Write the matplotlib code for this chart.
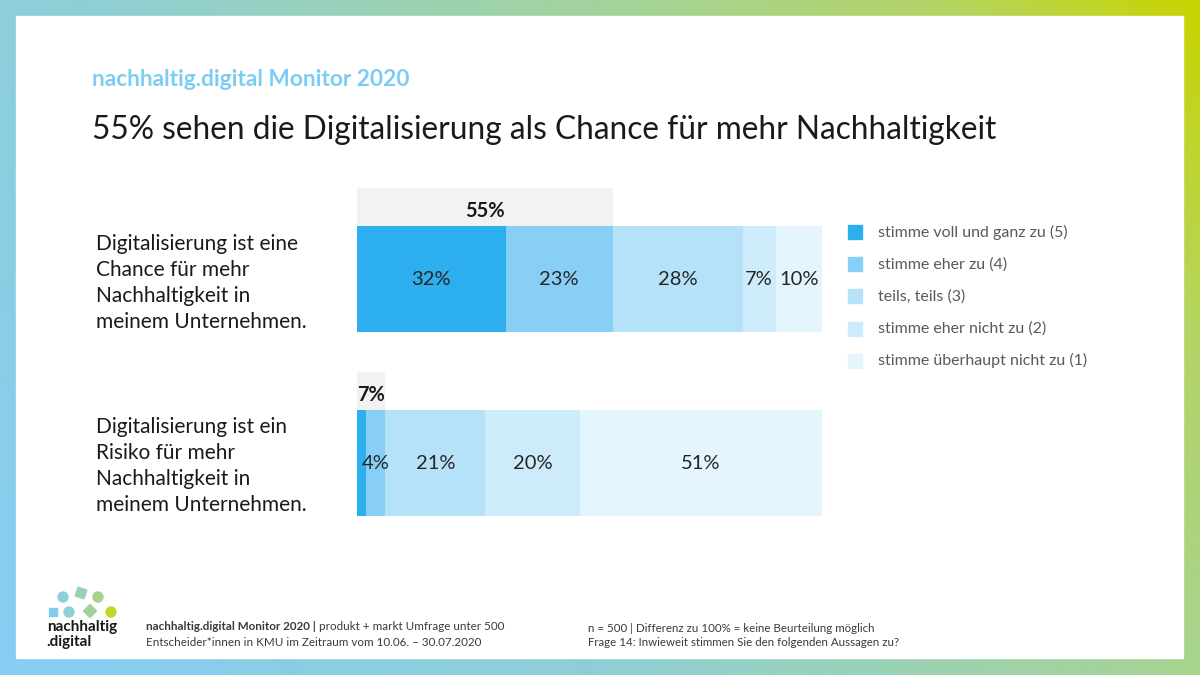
import numpy as np
import matplotlib.pyplot as plt
from matplotlib.patches import Rectangle, Circle, RegularPolygon

plt.rcParams['font.family'] = ['Lato', 'DejaVu Sans']

# Daten
kategorien = ['stimme voll und ganz zu (5)', 'stimme eher zu (4)', 'teils, teils (3)',
              'stimme eher nicht zu (2)', 'stimme überhaupt nicht zu (1)']
farben = ['#2daeee', '#88cff6', '#b5e2f8', '#cdebfa', '#e5f5fd']
aussagen = ['Digitalisierung ist eine\nChance für mehr\nNachhaltigkeit in\nmeinem Unternehmen.',
            'Digitalisierung ist ein\nRisiko für mehr\nNachhaltigkeit in\nmeinem Unternehmen.']
chance = [32, 23, 28, 7, 10]
risiko = [2, 4, 21, 20, 51]
zustimmung = [55, 7]  # Top-2 (5+4)

W, H = 1200, 675
fig = plt.figure(figsize=(12, 6.75), dpi=100)

# Hintergrund mit Farbverlauf, Koordinaten in Pixeln
bg = fig.add_axes([0, 0, 1, 1])
yy, xx = np.mgrid[0:H:68j, 0:W:120j]
t = 0.7 * xx / W + 0.3 * (1 - yy / H)
stops = [0, 0.35, 0.65, 0.85, 1]
r = np.interp(t, stops, [134, 142, 163, 180, 200])
g = np.interp(t, stops, [205, 207, 211, 212, 212])
b = np.interp(t, stops, [244, 214, 156, 100, 0])
img = np.dstack([r, g, b]) / 255
bg.imshow(img, extent=[0, W, H, 0], aspect='auto', interpolation='bilinear')
bg.set_xlim(0, W)
bg.set_ylim(H, 0)
bg.axis('off')
bg.add_patch(Rectangle((16, 16), 1167, 642, color='white', zorder=2))

bg.text(92, 80, 'nachhaltig.digital Monitor 2020', fontsize=16.3, fontweight='bold',
        color='#7dcdf3', va='center', zorder=3)
bg.text(92, 130, '55% sehen die Digitalisierung als Chance für mehr Nachhaltigkeit',
        fontsize=22.8, color='#1a1a1a', va='center', zorder=3)

# Balken
ax = fig.add_axes([357 / W, 1 - 530 / H, 465 / W, 350 / H])
ax.set_xlim(0, 100)
ax.set_ylim(1.364, -0.538)
ax.axis('off')

hoehe = 0.576
kasten = 0.205
for i, werte in enumerate([chance, risiko]):
    werte = np.array(werte, dtype=float)
    anteile = werte / werte.sum() * 100
    links = np.concatenate([[0], np.cumsum(anteile)[:-1]])
    ax.barh(i, anteile, left=links, height=hoehe, color=farben, linewidth=0)
    for v, a, l in zip(werte, anteile, links):
        if v >= 3:
            ax.text(l + a / 2, i, f'{v:.0f}%', ha='center', va='center',
                    fontsize=14.5, color='#262626')
    top2 = anteile[0] + anteile[1]
    yk = i - hoehe / 2 - kasten / 2
    ax.barh(yk, top2, left=0, height=kasten, color='#f2f2f2', linewidth=0)
    ax.text(top2 / 2, yk + 0.02, f'{zustimmung[i]}%', ha='center', va='center',
            fontsize=14.5, fontweight='bold', color='#1a1a1a')

# Aussagen links
for i, txt in enumerate(aussagen):
    bg.text(96, 283 + 183 * i, txt, fontsize=15, color='#1a1a1a', va='center',
            linespacing=1.37, zorder=3)

# Legende
for i, k in enumerate(kategorien):
    y = 232 + 32.2 * i
    bg.add_patch(Rectangle((848, y - 7), 14, 14, color=farben[i], zorder=3))
    bg.text(878, y, k, fontsize=11.5, color='#595959', va='center', zorder=3)

# Logo
punkte = [(63, 597, 'c', '#8ed0d9'), (81, 593, 's', '#9ccfb7'), (98, 597, 'c', '#a9d08f'),
          (53, 612, 'q', '#84c9ef'), (69, 612, 'c', '#8fd0d6'), (90, 611, 'd', '#a3d19a'),
          (111, 612, 'c', '#c4d52b')]
for px, py, form, fc in punkte:
    if form == 'c':
        p = Circle((px, py), 5, color=fc, zorder=3)
    elif form == 's':
        p = RegularPolygon((px, py), 4, radius=6.5, orientation=np.pi / 4 + 0.35, color=fc, zorder=3)
    elif form == 'q':
        p = RegularPolygon((px, py), 4, radius=6.3, orientation=np.pi / 4, color=fc, zorder=3)
    else:
        p = RegularPolygon((px, py), 4, radius=6.5, orientation=0, color=fc, zorder=3)
    bg.add_patch(p)
bg.text(47, 627, 'nachhaltig', fontsize=11, fontweight='bold', color='#1a1a1a', va='center', zorder=3)
bg.text(46, 642, '.digital', fontsize=11, fontweight='bold', color='#1a1a1a', va='center', zorder=3)

# Fusszeile
fc = '#3a3a3a'
t1 = bg.text(146, 627, 'nachhaltig.digital Monitor 2020 |', fontsize=8.4, fontweight='bold',
             color=fc, va='center', zorder=3)
renderer = fig.canvas.get_renderer()
x1 = t1.get_window_extent(renderer=renderer).x1
bg.text(x1 + 3, 627, 'produkt + markt Umfrage unter 500', fontsize=8.4, color=fc, va='center', zorder=3)
bg.text(146, 642, 'Entscheider*innen in KMU im Zeitraum vom 10.06. – 30.07.2020', fontsize=8.4,
        color=fc, va='center', zorder=3)
bg.text(588, 629, 'n = 500 | Differenz zu 100% = keine Beurteilung möglich', fontsize=8.3,
        color=fc, va='center', zorder=3)
bg.text(588, 643, 'Frage 14: Inwieweit stimmen Sie den folgenden Aussagen zu?', fontsize=8.3,
        color=fc, va='center', zorder=3)

fig.savefig('out.png', dpi=100)
